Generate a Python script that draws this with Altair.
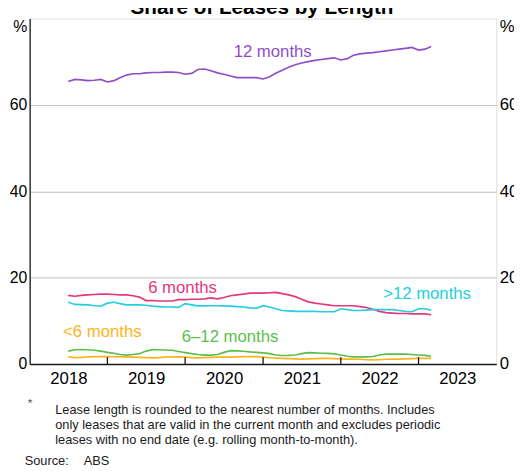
import altair as alt
import pandas as pd

FONT = "Liberation Sans"

# ---- data -----------------------------------------------------------------
dates = pd.date_range("2018-07-01", periods=57, freq="MS")

series_names = ["12 months", "6 months", ">12 months", "6–12 months", "<6 months"]
series_colors = ["#8E4FC6", "#E5387B", "#23CFDD", "#5CBF4B", "#FFB31A"]

twelve = [65.4, 65.9, 65.8, 65.6, 65.7, 65.9, 65.3, 65.6, 66.3, 66.9,
          67.2, 67.2, 67.4, 67.5, 67.5, 67.6, 67.6, 67.5, 67.1, 67.3,
          68.2, 68.3, 67.9, 67.4, 67.1, 66.7, 66.3, 66.3, 66.3, 66.3,
          66.0, 66.5, 67.3, 68.0, 68.7, 69.3, 69.7, 70.0, 70.3, 70.5,
          70.7, 70.9, 70.4, 70.7, 71.5, 71.8, 72.0, 72.1, 72.3, 72.5,
          72.7, 72.9, 73.1, 73.3, 72.7, 72.9, 73.5]
six = [15.9, 15.7, 15.9, 16.0, 16.1, 16.2, 16.2, 16.1, 16.0, 16.0,
       15.8, 15.5, 14.7, 14.7, 14.6, 14.6, 14.6, 14.9, 14.9, 15.0,
       15.0, 15.1, 15.3, 15.1, 15.4, 15.8, 16.0, 16.2, 16.4, 16.4,
       16.4, 16.5, 16.6, 16.3, 16.0, 15.6, 15.0, 14.4, 14.1, 13.9,
       13.7, 13.5, 13.5, 13.5, 13.5, 13.3, 13.1, 12.7, 12.2, 11.9,
       11.8, 11.7, 11.7, 11.6, 11.6, 11.6, 11.4]
over_twelve = [14.3, 13.8, 13.75, 13.7, 13.5, 13.4, 14.1, 14.3, 14.0, 13.7,
               13.7, 13.7, 13.6, 13.4, 13.3, 13.2, 13.2, 13.1, 14.0, 13.7,
               13.45, 13.45, 13.5, 13.5, 13.45, 13.4, 13.3, 13.2, 13.0, 12.9,
               13.5, 13.2, 12.8, 12.4, 12.3, 12.2, 12.2, 12.2, 12.2, 12.1,
               12.1, 12.1, 12.8, 12.6, 12.4, 12.4, 12.5, 12.6, 12.6, 12.6,
               12.6, 12.4, 12.2, 12.1, 12.8, 12.8, 12.45]
six_to_twelve = [3.0, 3.3, 3.35, 3.3, 3.2, 3.0, 2.7, 2.5, 2.2, 2.05,
                 2.2, 2.4, 3.0, 3.35, 3.3, 3.25, 3.2, 2.9, 2.65, 2.4,
                 2.2, 2.05, 2.05, 2.2, 2.7, 3.1, 3.05, 2.95, 2.8, 2.7,
                 2.6, 2.4, 2.1, 1.97, 2.0, 2.1, 2.4, 2.65, 2.6, 2.5,
                 2.45, 2.35, 2.1, 1.8, 1.67, 1.67, 1.67, 1.75, 2.1, 2.3,
                 2.3, 2.3, 2.3, 2.2, 2.1, 2.0, 1.8]
under_six = [1.67, 1.5, 1.55, 1.65, 1.72, 1.74, 1.7, 1.68, 1.67, 1.65,
             1.6, 1.55, 1.5, 1.44, 1.5, 1.6, 1.67, 1.67, 1.6, 1.5,
             1.44, 1.5, 1.55, 1.6, 1.6, 1.6, 1.65, 1.7, 1.74, 1.72,
             1.6, 1.45, 1.37, 1.3, 1.25, 1.2, 1.14, 1.2, 1.25, 1.3,
             1.3, 1.25, 1.2, 1.15, 1.14, 1.1, 1.0, 0.98, 1.0, 1.1,
             1.14, 1.14, 1.2, 1.25, 1.3, 1.3, 1.3]

series_values = [twelve, six, over_twelve, six_to_twelve, under_six]

# series label positions (in data coordinates)
label_dates = ["2021-02-15", "2019-12-20", "2023-02-10", "2020-07-30", "2018-12-08"]
label_values = [72.2, 17.7, 16.3, 6.27, 7.4]

year_ticks = ["2019-01-01", "2020-01-01", "2021-01-01", "2022-01-01", "2023-01-01"]
year_labels = [2018, 2019, 2020, 2021, 2022, 2023]
y_ticks = [0, 20, 40, 60, 80]

title_text = "Share of Leases by Length"
footnote_mark = "*"
footnote_text = ("Lease length is rounded to the nearest number of months. Includes\n"
                 "only leases that are valid in the current month and excludes periodic\n"
                 "leases with no end date (e.g. rolling month-to-month).")
source_label = "Source:"
source_text = "ABS"

# ---- tables -----------------------------------------------------------------
frames = []
for name, vals in zip(series_names, series_values):
    frames.append(pd.DataFrame({"date": dates, "value": vals, "series": name}))
df = pd.concat(frames, ignore_index=True)

labels_df = pd.DataFrame({"series": series_names, "date": label_dates, "value": label_values})
ticks_df = pd.DataFrame({"date": year_ticks})

x_scale = alt.Scale(domain=[alt.DateTime(year=2018, month=1, date=1),
                            alt.DateTime(year=2024, month=1, date=1)])
y_scale = alt.Scale(domain=[0, 80], nice=False, zero=True)
color_scale = alt.Scale(domain=series_names, range=series_colors)

W, H = 474, 351

x_axis = alt.Axis(
    values=[alt.DateTime(year=y, month=7, date=2) for y in year_labels],
    format="%Y", ticks=False, grid=False, title=None,
    domain=True, domainColor="#1a1a1a", domainWidth=1.5,
    labelFontSize=17, labelFont=FONT, labelColor="#000", labelPadding=7,
    labelFlush=False, labelOverlap=False,
)

left_axis = alt.Axis(
    values=y_ticks, orient="left", title=None, ticks=False,
    domain=True, domainColor="#1a1a1a", domainWidth=1.3,
    grid=True, gridColor="#BFBFBF", gridWidth=1,
    gridOpacity={"condition": {"test": "datum.value == 0 || datum.value == 80", "value": 0}, "value": 1},
    labelExpr="datum.value == 80 ? '%' : datum.label",
    labelBaseline={"condition": {"test": "datum.value == 80", "value": "top"}, "value": "middle"},
    labelFontSize=16, labelFont=FONT, labelColor="#000", labelPadding=3,
    labelFlush=False,
)

right_axis = alt.Axis(
    values=y_ticks, orient="right", title=None, ticks=False, domain=False, grid=False,
    labelExpr="datum.value == 80 ? '%' : datum.label",
    labelBaseline={"condition": {"test": "datum.value == 80", "value": "top"}, "value": "middle"},
    labelFontSize=17, labelFont=FONT, labelColor="#000", labelPadding=3,
    labelAlign="left", labelFlush=False,
)

lines = alt.Chart(df).mark_line(strokeWidth=1.7).encode(
    x=alt.X("date:T", scale=x_scale, axis=x_axis),
    y=alt.Y("value:Q", scale=y_scale, axis=left_axis),
    color=alt.Color("series:N", scale=color_scale, legend=None),
)

series_text = alt.Chart(labels_df).mark_text(
    fontSize=17, font=FONT, align="center", baseline="middle"
).encode(
    x=alt.X("date:T", scale=x_scale, axis=x_axis),
    y=alt.Y("value:Q", scale=y_scale, axis=right_axis),
    text="series:N",
    color=alt.Color("series:N", scale=color_scale, legend=None),
)

# inward year-boundary ticks on the bottom axis
tick_rules = alt.Chart(ticks_df).mark_rule(color="#111111", strokeWidth=1.3).encode(
    x=alt.X("date:T", scale=x_scale, axis=x_axis),
    y=alt.value(H - 7),
    y2=alt.value(H),
)

def note(text, x, y, **kw):
    base = dict(font=FONT, align="left", baseline="middle", color="#1a1a1a")
    base.update(kw)
    return alt.Chart(pd.DataFrame({"t": [text]})).mark_text(**base).encode(
        text="t:N", x=alt.value(x), y=alt.value(y)
    )

title = note(title_text, 236, -5, fontSize=21, fontWeight="bold",
             align="center", baseline="alphabetic", color="#000")
star = note(footnote_mark, -2, 391, fontSize=12, color="#555")
foot = note(footnote_text, 26, 398, fontSize=13, lineHeight=15, lineBreak="\n")
src1 = note(source_label, -5, 450, fontSize=13)
src2 = note(source_text, 55, 450, fontSize=13)

chart = alt.layer(lines, series_text, title, star, foot, src1, src2, tick_rules).resolve_axis(
    y="independent"
).properties(
    width=W, height=H,
    autosize=alt.AutoSizeParams(type="none"),
    padding={"left": 22, "top": 7, "right": 18, "bottom": 105},
).configure_view(
    stroke="#808080", strokeWidth=1.3
).configure(
    font=FONT, background="white"
)

chart.save("out.html", embed_options={"renderer": "svg", "actions": False})
